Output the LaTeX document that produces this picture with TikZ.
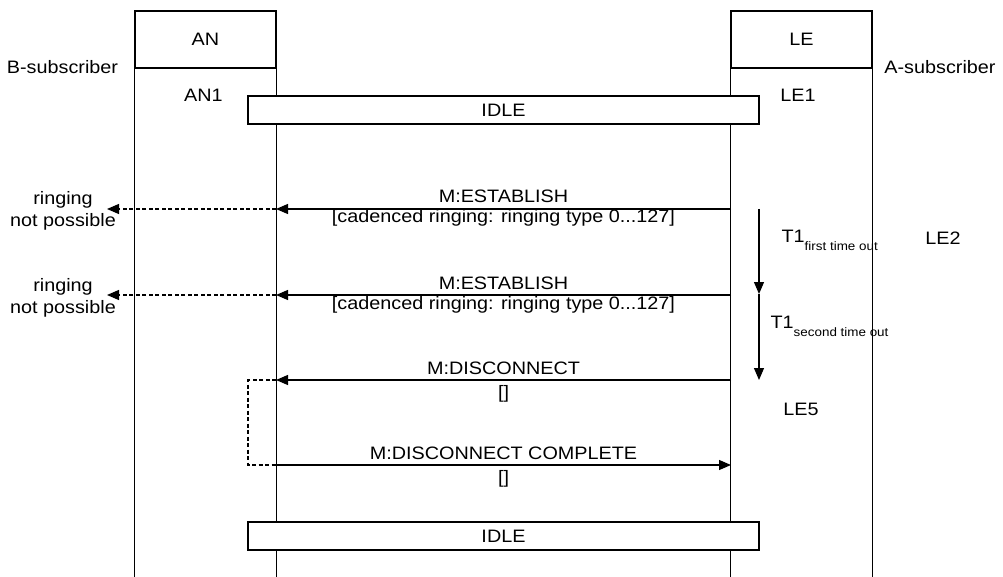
\documentclass[tikz,border=0pt]{standalone}
\usepackage{fontspec}
\setmainfont{Liberation Sans}[FakeStretch=1.1]
\usetikzlibrary{arrows.meta}
\begin{document}
\begin{tikzpicture}[x=1pt,y=-1pt, line width=1.2pt,
  txt/.style={inner sep=0pt, anchor=base, font=\fontsize{18}{22}\selectfont},
  head/.style={draw, minimum width=141pt, minimum height=57pt, inner sep=0pt, font=\fontsize{18}{22}\selectfont},
  statebox/.style={draw, fill=white, minimum width=511pt, minimum height=28pt, inner sep=0pt, font=\fontsize{18}{22}\selectfont},
  msg/.style={-{Triangle[length=12pt,width=10pt]}},
  dsh/.style={dash pattern=on 4pt off 2.5pt},
  subs/.style={font=\fontsize{12.2}{14}\selectfont}
  ]
\useasboundingbox (0,0) rectangle (1003,577);
\coordinate (bot) at (0,577);
% heads
\node[head] (AN) at (205.5,39.5) {AN};
\node[head] (LE) at (801.5,39.5) {LE};
% lifelines
\draw (AN.south west) -- (AN.south west |- bot);
\draw (AN.south east) -- (AN.south east |- bot);
\draw (LE.south west) -- (LE.south west |- bot);
\draw (LE.south east) -- (LE.south east |- bot);
% side labels
\node[txt] (Bsub) at (62.5,74) {B-subscriber};
\node[txt] (Asub) at (940,74) {A-subscriber};
\node[txt] (AN1) at (203.5,102) {AN1};
\node[txt] (LE1) at (798,102) {LE1};
% state boxes
\node[statebox] (idle1) at (503.5,110) {IDLE};
\node[statebox] (idle2) at (503.5,536) {IDLE};
% message coordinates
\coordinate (e1L) at (731,209); \coordinate (e1A) at (276,209); \coordinate (e1X) at (107,209);
\coordinate (e2L) at (731,295); \coordinate (e2A) at (276,295); \coordinate (e2X) at (107,295);
\coordinate (dL) at (731,380); \coordinate (dA) at (276,380);
\coordinate (lpT) at (248,380); \coordinate (lpB) at (248,465);
\coordinate (cA) at (276,465); \coordinate (cL) at (731,465);
\coordinate (t0) at (759,209); \coordinate (t1) at (759,294); \coordinate (t2) at (759,380);
% first establish
\draw[msg] (e1L) -- (e1A);
\draw[msg,dsh] (e1A) -- (e1X);
\node[txt] (m1) at (503.5,203) {M:ESTABLISH};
\node[txt] (p1) at (503.5,223) {[cadenced ringing: ringing type 0...127]};
\node[txt] (r1a) at (63,205) {ringing};
\node[txt] (r1b) at (63,227) {not possible};
% second establish
\draw[msg] (e2L) -- (e2A);
\draw[msg,dsh] (e2A) -- (e2X);
\node[txt] (m2) at (503.5,289) {M:ESTABLISH};
\node[txt] (p2) at (503.5,309) {[cadenced ringing: ringing type 0...127]};
\node[txt] (r2a) at (63,291) {ringing};
\node[txt] (r2b) at (63,313) {not possible};
% disconnect
\draw[msg] (dL) -- (dA);
\node[txt] (m3) at (503.5,374) {M:DISCONNECT};
\node[txt] (p3) at (503.5,398) {[]};
\draw[dsh] (dA) -- (lpT) -- (lpB) -- (cA);
\draw[msg] (cA) -- (cL);
\node[txt] (m4) at (503.5,459) {M:DISCONNECT COMPLETE};
\node[txt] (p4) at (503.5,483) {[]};
% timers
\draw[msg] (t0) -- (t1);
\draw[msg] (t1) -- (t2);
\node[txt, anchor=base west] (T1a) at (781,243) {T1\raisebox{-8pt}{\fontsize{12.2}{14}\selectfont first time out}};
\node[txt, anchor=base west] (T1b) at (770,328) {T1\raisebox{-8pt}{\fontsize{12.2}{14}\selectfont second time out}};
\node[txt] (LE2) at (943,244) {LE2};
\node[txt] (LE5) at (801,415) {LE5};
\end{tikzpicture}
\end{document}
